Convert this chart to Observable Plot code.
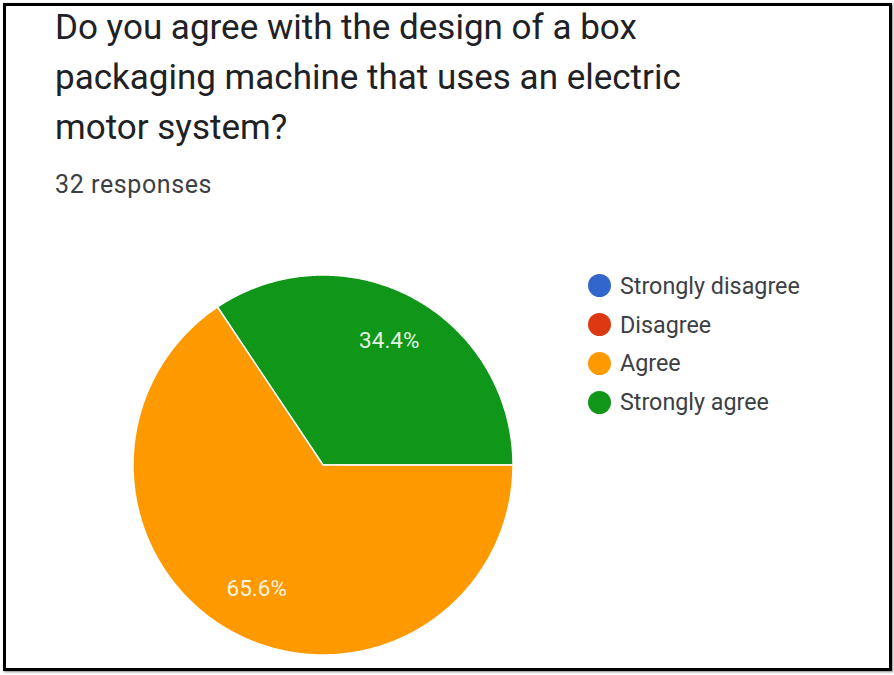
<!DOCTYPE html>
<html>
<head>
<meta charset="utf-8">
<script src="https://cdn.jsdelivr.net/npm/d3@7"></script>
<script src="https://cdn.jsdelivr.net/npm/@observablehq/plot@0.6"></script>
<style>
  html, body { margin: 0; padding: 0; background: #fff; }
  #page { position: relative; width: 894px; height: 675px; overflow: hidden; font-family: Roboto, sans-serif; background: #fff; }
  #frame { position: absolute; left: 3px; top: 3px; width: 889px; height: 668px; border: 3px solid #000; box-sizing: border-box; box-shadow: 1px 1px 2px #888; }
  #title { position: absolute; left: 55px; top: 3px; font-size: 35px; line-height: 50px; color: #202124; white-space: nowrap; }
  #subtitle { position: absolute; left: 55px; top: 170px; font-size: 25px; letter-spacing: 0.6px; line-height: 1.172; color: #3c4043; white-space: nowrap; }
  #chart { position: absolute; left: 0; top: 215px; }
  #legend { position: absolute; left: 588px; top: 266.6px; }
  .row { display: flex; align-items: center; height: 38.7px; }
  .sw { width: 23px; height: 23px; border-radius: 50%; margin-right: 9px; flex: none; }
  .lab { font-size: 23.3px; color: #3c4043; white-space: nowrap; }
</style>
</head>
<body>
<div id="page">
  <div id="frame"></div>
  <div id="title"></div>
  <div id="subtitle"></div>
  <div id="chart"></div>
  <div id="legend"></div>
</div>
<script>
const titleLines = ["Do you agree with the design of a box", "packaging machine that uses an electric", "motor system?"];
const subtitleText = "32 responses";
const categories = ["Strongly disagree", "Disagree", "Agree", "Strongly agree"];
const responses = [0, 0, 21, 11];
const colors = ["#3366cc", "#dc3912", "#ff9900", "#109618"];

const total = d3.sum(responses);

document.getElementById("title").innerHTML = titleLines.join("<br>");
document.getElementById("subtitle").textContent = subtitleText;

// Build slice outlines (angles measured counter-clockwise from 3 o'clock)
const points = [];
const labels = [];
let a0 = 0;
for (let i = categories.length - 1; i >= 0; i--) {
  const v = responses[i];
  if (!v) continue;
  const cat = categories[i];
  const a1 = a0 + (v / total) * 2 * Math.PI;
  const n = Math.max(2, Math.ceil((a1 - a0) / (Math.PI / 360)));
  points.push({cat, x: 0, y: 0});
  for (let k = 0; k <= n; k++) {
    const a = a0 + (a1 - a0) * k / n;
    points.push({cat, x: Math.cos(a), y: Math.sin(a)});
  }
  points.push({cat, x: 0, y: 0});
  const mid = (a0 + a1) / 2;
  labels.push({cat, x: 0.74 * Math.cos(mid), y: 0.74 * Math.sin(mid), text: (v / total * 100).toFixed(1) + "%"});
  a0 = a1;
}

const chart = Plot.plot({
  width: 894,
  height: 455,
  margin: 0,
  style: {fontFamily: "Roboto, sans-serif", background: "transparent"},
  x: {domain: [-1, 1], range: [132.5, 512.5], axis: null},
  y: {domain: [-1, 1], range: [439.5, 59.5], axis: null},
  color: {domain: categories, range: colors},
  marks: [
    Plot.line(points, {x: "x", y: "y", z: "cat", fill: "cat", stroke: "white", strokeWidth: 1.5, strokeLinejoin: "round", curve: "linear"}),
    Plot.text(labels, {x: "x", y: "y", text: "text", fill: "white", fontSize: 22.5, fillOpacity: 0.9})
  ]
});
document.getElementById("chart").appendChild(chart);

const legend = document.getElementById("legend");
categories.forEach((c, i) => {
  const row = document.createElement("div");
  row.className = "row";
  row.innerHTML = `<span class="sw" style="background:${colors[i]}"></span><span class="lab">${c}</span>`;
  legend.appendChild(row);
});
</script>
</body>
</html>
